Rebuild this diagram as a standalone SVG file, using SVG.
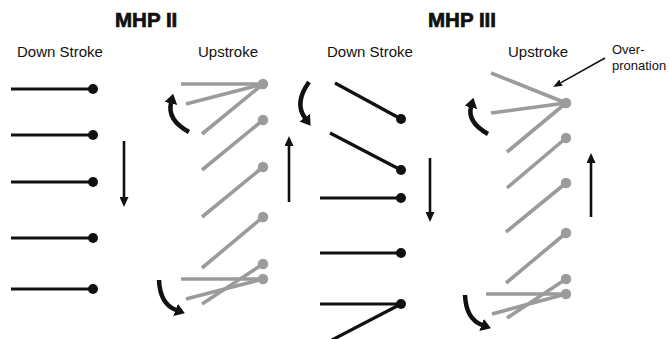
<svg xmlns="http://www.w3.org/2000/svg" width="669" height="339" viewBox="0 0 669 339">
<style>
.t{font-family:"Liberation Sans",Arial,sans-serif;fill:#111}
.h{font-size:20.5px;font-weight:bold;stroke:#111;stroke-width:0.7}
.s{font-size:15px}
.o{font-size:13px}
.b line{stroke:#111;stroke-width:3.2;stroke-linecap:butt}
.b circle{fill:#111}
.g line{stroke:#9b9b9b;stroke-width:3.6;stroke-linecap:butt}
.g circle{fill:#9b9b9b}
.ca{fill:none;stroke:#111;stroke-width:4.5;marker-end:url(#ch)}
.sa{stroke:#111;stroke-width:2.6;marker-end:url(#sh)}
.ta{stroke:#111;stroke-width:1.6;marker-end:url(#th)}
</style>
<defs>
<marker id="ch" markerUnits="userSpaceOnUse" markerWidth="10" markerHeight="13" viewBox="0 0 10 13" refX="0.5" refY="6.5" orient="auto"><path d="M0,0 L10,6.5 L0,13 z" fill="#111"/></marker>
<marker id="sh" markerUnits="userSpaceOnUse" markerWidth="10" markerHeight="9" viewBox="0 0 10 9" refX="0" refY="4.5" orient="auto"><path d="M0,0 L10,4.5 L0,9 z" fill="#111"/></marker>
<marker id="th" markerUnits="userSpaceOnUse" markerWidth="9" markerHeight="7" viewBox="0 0 9 7" refX="0" refY="3.5" orient="auto"><path d="M0,0 L9,3.5 L0,7 z" fill="#111"/></marker>
</defs>

<g id="titles">
<text class="t h" x="115" y="27">MHP II</text>
<text class="t h" x="428" y="27">MHP III</text>
<text class="t s" x="17" y="57">Down Stroke</text>
<text class="t s" x="198" y="57">Upstroke</text>
<text class="t s" x="327" y="57">Down Stroke</text>
<text class="t s" x="508" y="57">Upstroke</text>
<text class="t o" x="612" y="54">Over-</text>
<text class="t o" x="612" y="70">pronation</text>
</g>

<g id="mhp2-down" class="b">
<g id="m2d1"><line x1="11" y1="89" x2="93" y2="89"/><circle cx="93" cy="89" r="5"/></g>
<g id="m2d2"><line x1="11" y1="135" x2="93" y2="135"/><circle cx="93" cy="135" r="5"/></g>
<g id="m2d3"><line x1="11" y1="182" x2="93" y2="182"/><circle cx="93" cy="182" r="5"/></g>
<g id="m2d4"><line x1="11" y1="238" x2="93" y2="238"/><circle cx="93" cy="238" r="5"/></g>
<g id="m2d5"><line x1="11" y1="289" x2="93" y2="289"/><circle cx="93" cy="289" r="5"/></g>
</g>

<g id="mhp2-up" class="g">
<g id="m2u1"><line x1="181" y1="84" x2="263" y2="84"/><line x1="186" y1="104" x2="263" y2="84"/><line x1="202" y1="134" x2="263" y2="84"/><circle cx="263" cy="84" r="5.2"/></g>
<g id="m2u2"><line x1="202" y1="170" x2="263" y2="120"/><circle cx="263" cy="120" r="5.2"/></g>
<g id="m2u3"><line x1="202" y1="217" x2="263" y2="167"/><circle cx="263" cy="167" r="5.2"/></g>
<g id="m2u4"><line x1="202" y1="268" x2="263" y2="217"/><circle cx="263" cy="217" r="5.2"/></g>
<g id="m2u5"><line x1="202" y1="304" x2="263" y2="264"/><circle cx="263" cy="264" r="5.2"/><line x1="181" y1="279" x2="263" y2="279"/><line x1="186" y1="299" x2="263" y2="279"/><circle cx="263" cy="279" r="5.2"/></g>
</g>

<g id="mhp3-down" class="b">
<g id="m3d1"><line x1="335" y1="83" x2="401" y2="119"/><circle cx="401" cy="119" r="5"/></g>
<g id="m3d2"><line x1="330" y1="133" x2="401" y2="170"/><circle cx="401" cy="170" r="5"/></g>
<g id="m3d3"><line x1="320" y1="198" x2="401" y2="198"/><circle cx="401" cy="198" r="5"/></g>
<g id="m3d4"><line x1="320" y1="253" x2="401" y2="253"/><circle cx="401" cy="253" r="5"/></g>
<g id="m3d5"><line x1="320" y1="304" x2="401" y2="304"/><line x1="330" y1="341" x2="401" y2="304"/><circle cx="401" cy="304" r="5"/></g>
</g>

<g id="mhp3-up" class="g">
<g id="m3u1"><line x1="491" y1="73" x2="566" y2="103"/><line x1="491" y1="113" x2="566" y2="103"/><line x1="507" y1="152" x2="566" y2="103"/><circle cx="566" cy="103" r="5.2"/></g>
<g id="m3u2"><line x1="507" y1="188" x2="566" y2="138"/><circle cx="566" cy="138" r="5.2"/></g>
<g id="m3u3"><line x1="506" y1="232" x2="566" y2="183"/><circle cx="566" cy="183" r="5.2"/></g>
<g id="m3u4"><line x1="506" y1="283" x2="566" y2="233"/><circle cx="566" cy="233" r="5.2"/></g>
<g id="m3u5"><line x1="507" y1="318" x2="566" y2="279"/><circle cx="566" cy="279" r="5.2"/><line x1="486" y1="294" x2="566" y2="294"/><line x1="492" y1="314" x2="566" y2="294"/><circle cx="566" cy="294" r="5.2"/></g>
</g>

<g id="connectors">
<line class="sa" x1="124" y1="141" x2="124" y2="197"/>
<line class="sa" x1="289" y1="202" x2="289" y2="146"/>
<line class="sa" x1="430" y1="158" x2="430" y2="212"/>
<line class="sa" x1="591" y1="217" x2="591" y2="163"/>
<path class="ca" d="M189,132 Q167,120 171,103"/>
<path class="ca" d="M159,280 Q160,304 176,310"/>
<path class="ca" d="M309,82 Q294,103 305,118"/>
<path class="ca" d="M488,134 Q467,122 471,107"/>
<path class="ca" d="M465,295 Q466,319 482,325"/>
<line class="ta" x1="605" y1="58" x2="561" y2="82.6"/>
</g>
</svg>
